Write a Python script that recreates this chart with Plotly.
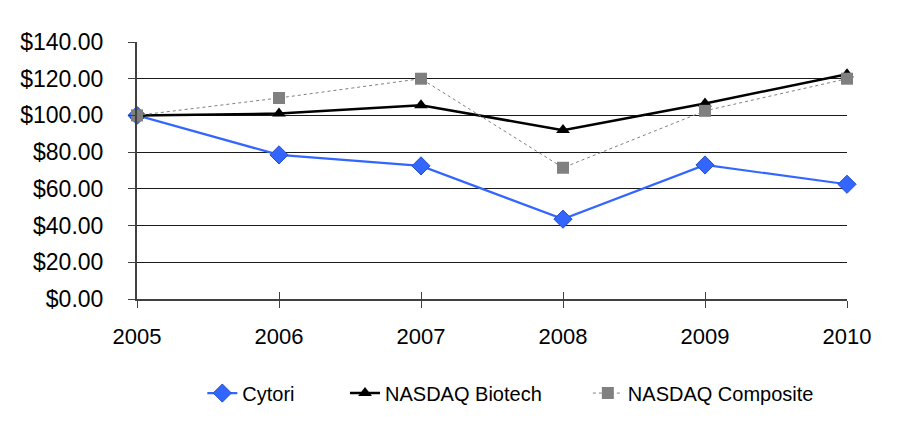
import plotly.graph_objects as go

years = [2005, 2006, 2007, 2008, 2009, 2010]
cytori = [100.0, 78.5, 72.5, 43.5, 73.0, 62.5]
biotech = [100.0, 101.0, 105.5, 92.0, 106.5, 122.5]
composite = [100.0, 109.5, 120.0, 71.5, 102.5, 120.0]
y_ticks = [0, 20, 40, 60, 80, 100, 120, 140]
y_grid = [20, 40, 60, 80, 100, 120]
y_labels = ["$%.2f" % v for v in y_ticks]

FONT = "Liberation Sans, Arial, sans-serif"
AXIS_COLOR = "#404040"

fig = go.Figure()
# invisible trace to activate overlay axes (grid + crossing ticks)
fig.add_trace(go.Scatter(x=[2005], y=[0], xaxis="x2", yaxis="y2", mode="markers",
                         marker=dict(opacity=0), showlegend=False, hoverinfo="skip"))
fig.add_trace(go.Scatter(
    x=years, y=cytori, name="Cytori", mode="lines+markers", legend="legend",
    line=dict(color="#3366ff", width=2.2),
    marker=dict(symbol="diamond", size=14, color="#3366ff", line=dict(color="#2a4fbf", width=1)),
    cliponaxis=False,
))
fig.add_trace(go.Scatter(
    x=years, y=biotech, name="NASDAQ Biotech", mode="lines+markers", legend="legend2",
    line=dict(color="#000000", width=2.5),
    marker=dict(symbol="triangle-up", size=12, color="#000000"),
    cliponaxis=False,
))
fig.add_trace(go.Scatter(
    x=years, y=composite, name="NASDAQ Composite", mode="lines+markers", legend="legend3",
    line=dict(color="#808080", width=1, dash="dot"),
    marker=dict(symbol="square", size=12, color="#808080"),
    cliponaxis=False,
))

leg_common = dict(orientation="h", y=-0.366, yanchor="middle", xanchor="left",
                  font=dict(size=20), bgcolor="rgba(0,0,0,0)")

fig.update_layout(
    width=903, height=424,
    margin=dict(l=123, r=64, t=34, b=133),
    paper_bgcolor="white", plot_bgcolor="white",
    font=dict(family=FONT, size=22, color="black"),
    showlegend=True,
    legend=dict(x=0.092, **leg_common),
    legend2=dict(x=0.293, **leg_common),
    legend3=dict(x=0.635, **leg_common),
    xaxis=dict(range=[2005, 2010], tickvals=years, ticktext=[str(y) for y in years],
               showgrid=False, zeroline=False, showline=True, linecolor=AXIS_COLOR, linewidth=2,
               ticks="outside", ticklen=7, tickcolor=AXIS_COLOR, tickwidth=1,
               ticklabelstandoff=10),
    xaxis2=dict(range=[2005, 2010], tickvals=years, overlaying="x", side="bottom", anchor="y",
                showgrid=False, zeroline=False, showline=False, showticklabels=False,
                ticks="inside", ticklen=7, tickcolor=AXIS_COLOR, tickwidth=1),
    yaxis=dict(range=[0, 140], tickvals=y_ticks, ticktext=y_labels,
               showgrid=False, zeroline=False, showline=True, linecolor=AXIS_COLOR, linewidth=2,
               ticks="outside", ticklen=7, tickcolor=AXIS_COLOR, tickwidth=1,
               ticklabelstandoff=20, tickfont=dict(size=23)),
    yaxis2=dict(range=[0, 140], tickvals=y_grid, overlaying="y", anchor="x",
                showgrid=True, gridcolor="#1a1a1a", gridwidth=1, zeroline=False,
                showline=False, showticklabels=False, ticks=""),
)

fig.write_html("out.html")
